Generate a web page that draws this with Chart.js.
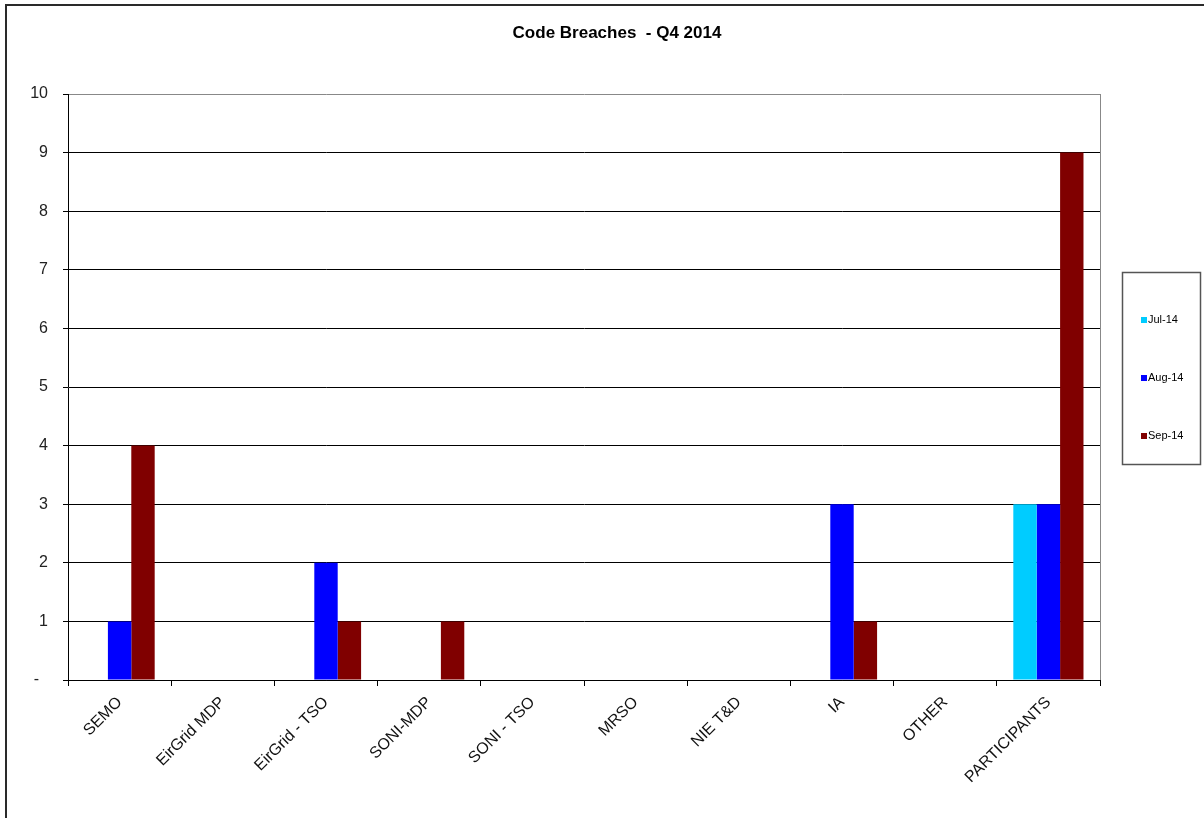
<!DOCTYPE html>
<html>
<head>
<meta charset="utf-8">
<script src="https://cdn.jsdelivr.net/npm/chart.js@4/dist/chart.umd.min.js"></script>
<style>
  html, body { margin: 0; padding: 0; background: #fff; }
  #wrap { width: 1204px; height: 818px; position: relative; }
</style>
</head>
<body>
<div id="wrap"><canvas id="c" width="1204" height="818"></canvas></div>
<script>
const categories = ["SEMO", "EirGrid MDP", "EirGrid - TSO", "SONI-MDP", "SONI - TSO", "MRSO", "NIE T&D", "IA", "OTHER", "PARTICIPANTS"];
const seriesNames = ["Jul-14", "Aug-14", "Sep-14"];
const jul14 = [0, 0, 0, 0, 0, 0, 0, 0, 0, 3];
const aug14 = [1, 0, 2, 0, 0, 0, 0, 3, 0, 3];
const sep14 = [4, 0, 1, 1, 0, 0, 0, 1, 0, 9];
const seriesColors = ["#00CCFF", "#0000FF", "#800000"];
const titleText = "Code Breaches  - Q4 2014";

const FONT = "'Liberation Sans', Arial, sans-serif";

const decor = {
  id: 'decor',
  beforeDraw(chart) {
    const ctx = chart.ctx;
    ctx.save();
    ctx.fillStyle = '#fff';
    ctx.fillRect(0, 0, chart.width, chart.height);
    // outer border (left + top)
    ctx.strokeStyle = '#2a2a2a';
    ctx.lineWidth = 2;
    ctx.beginPath();
    ctx.moveTo(6, chart.height);
    ctx.lineTo(6, 5);
    ctx.lineTo(chart.width, 5);
    ctx.stroke();
    ctx.restore();
  },
  afterDraw(chart) {
    const ctx = chart.ctx;
    const a = chart.chartArea;
    ctx.save();
    // right plot border (gray)
    ctx.strokeStyle = '#888';
    ctx.lineWidth = 1;
    ctx.beginPath();
    ctx.moveTo(Math.round(a.right) + 0.5, a.top);
    ctx.lineTo(Math.round(a.right) + 0.5, a.bottom);
    ctx.stroke();
    // title
    ctx.fillStyle = '#000';
    ctx.font = "bold 17px " + FONT;
    ctx.textAlign = 'center';
    ctx.textBaseline = 'middle';
    ctx.fillText(titleText, 617, 33);
    // legend box
    const bx = 1122, by = 272, bw = 78, bh = 192;
    ctx.strokeStyle = '#555';
    ctx.lineWidth = 1.5;
    ctx.strokeRect(bx + 0.5, by + 0.5, bw, bh);
    ctx.font = "11px " + FONT;
    ctx.textAlign = 'left';
    ctx.textBaseline = 'middle';
    const ys = [320, 378, 436];
    chart.data.datasets.forEach((ds, i) => {
      ctx.fillStyle = ds.backgroundColor;
      ctx.fillRect(bx + 19, ys[i] - 3, 6, 6);
      ctx.fillStyle = '#000';
      ctx.fillText(ds.label, bx + 26, ys[i]);
    });
    ctx.restore();
  }
};

new Chart(document.getElementById('c'), {
  type: 'bar',
  data: {
    labels: categories,
    datasets: [
      { label: seriesNames[0], data: jul14, backgroundColor: seriesColors[0] },
      { label: seriesNames[1], data: aug14, backgroundColor: seriesColors[1] },
      { label: seriesNames[2], data: sep14, backgroundColor: seriesColors[2] }
    ]
  },
  options: {
    responsive: false,
    animation: false,
    devicePixelRatio: 1,
    layout: { padding: { top: 94, right: 104, left: 0, bottom: 0 } },
    datasets: { bar: { categoryPercentage: 0.68, barPercentage: 1.0, borderWidth: 0 } },
    plugins: {
      legend: { display: false },
      title: { display: false },
      tooltip: { enabled: false }
    },
    scales: {
      x: {
        offset: true,
        grid: { offset: true, drawOnChartArea: false, drawTicks: true, tickLength: 6, color: '#000' },
        border: { display: true, color: '#000', width: 1 },
        ticks: {
          autoSkip: false, minRotation: 45, maxRotation: 45,
          color: '#111', font: { family: FONT, size: 16 }, padding: 7
        },
        afterFit(scale) { scale.height = 138; }
      },
      y: {
        min: 0, max: 10,
        grid: {
          color: (c) => (c.tick && c.tick.value === 10) ? '#888' : '#000',
          tickColor: '#000',
          tickLength: 5,
          drawTicks: true
        },
        border: { display: true, color: '#000', width: 1 },
        ticks: {
          stepSize: 1,
          color: '#222',
          font: { family: FONT, size: 16 },
          padding: 15,
          callback: (v) => v === 0 ? '-  ' : String(v)
        },
        afterFit(scale) { scale.width = 68; }
      }
    }
  },
  plugins: [decor]
});
</script>
</body>
</html>
